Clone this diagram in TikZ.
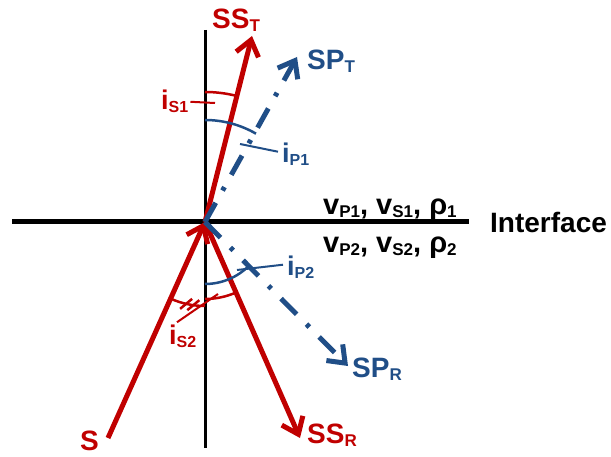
\documentclass[tikz,border=0pt]{standalone}
\usepackage{fontspec}
\setmainfont{Liberation Sans}
\usetikzlibrary{arrows.meta,calc}
\definecolor{sred}{RGB}{192,0,0}
\definecolor{pblue}{RGB}{32,78,135}
\newcommand{\lsub}[2][16]{\raisebox{-3pt}{\fontsize{#1}{#1}\selectfont #2}}
\begin{document}
\begin{tikzpicture}[x=1pt, y=1pt,
    every node/.style={inner sep=0pt, font=\fontsize{27}{27}\selectfont\bfseries},
    raylab/.style={anchor=base west, font=\fontsize{28}{28}\selectfont\bfseries},
    sray/.style={draw=sred, line width=5pt, -{Straight Barb[length=15pt, width=23pt]}},
    pray/.style={draw=pblue, line width=5pt, dash pattern=on 22pt off 14pt on 4pt off 14pt,
      -{Straight Barb[length=15pt, width=23pt]}},
    sarc/.style={draw=sred, line width=2.5pt},
    parc/.style={draw=pblue, line width=2.5pt}]
  \useasboundingbox (0,0) rectangle (611,456);

  % interface and normal
  \coordinate (o) at (205,234);
  \coordinate (left) at (12,234);
  \coordinate (right) at (469,234);
  \coordinate (top) at (205,426);
  \coordinate (bottom) at (205,8);
  \draw[line width=5pt] (left) -- (right);
  \draw[line width=3pt] (top) -- (bottom);
  \node[anchor=base west, font=\fontsize{28}{28}\selectfont\bfseries] (iface) at (490,223) {Interface};
  \node[anchor=base west, font=\fontsize{29}{29}\selectfont\bfseries] (med1) at (323,241)
    {v\lsub[17]{P1}, v\lsub[17]{S1}, ρ\lsub[17]{1}};
  \node[anchor=base west, font=\fontsize{29}{29}\selectfont\bfseries] (med2) at (323,204)
    {v\lsub[17]{P2}, v\lsub[17]{S2}, ρ\lsub[17]{2}};

  % rays
  \coordinate (src) at (108,18);
  \coordinate (sst) at (252,420);
  \coordinate (spt) at (297,399);
  \coordinate (ssr) at (300,18);
  \coordinate (spr) at (348,90);
  \draw[sray] (src) -- (o);
  \draw[sray] (o) -- (sst);
  \draw[sray] (o) -- (ssr);
  \draw[pray] (o) -- (spt);
  \draw[pray] (o) -- (spr);
  \node[raylab, text=sred] (s) at (80,6) {S};
  \node[raylab, text=sred] (sstlab) at (212,427) {SS\lsub[17]{T}};
  \node[raylab, text=pblue] (sptlab) at (307,386) {SP\lsub[17]{T}};
  \node[raylab, text=sred] (ssrlab) at (307,13) {SS\lsub[17]{R}};
  \node[raylab, text=pblue] (sprlab) at (352,79) {SP\lsub[17]{R}};

  % angles
  \draw[sarc] ($(o)+(90:130)$) arc[start angle=90, end angle=76, radius=130];
  \draw[parc] ($(o)+(90:102)$) arc[start angle=90, end angle=60, radius=102];
  \draw[parc] ($(o)+(270:62)$) arc[start angle=270, end angle=315, radius=62];
  \draw[sarc] ($(o)+(246:84)$) arc[start angle=246, end angle=270, radius=84];
  \draw[sarc] ($(o)+(270:77)$) arc[start angle=270, end angle=294, radius=77];
  \draw[sarc] ($(o)+(257:84)+(-6,-5)$) -- ++(12,10);
  \draw[sarc] ($(o)+(262:84)+(-6,-5)$) -- ++(12,10);

  \node[anchor=base west, text=sred] (is1) at (161,346) {i\lsub{S1}};
  \node[anchor=base west, text=pblue] (ip1) at (282,293) {i\lsub{P1}};
  \node[anchor=base west, text=pblue] (ip2) at (287,181) {i\lsub{P2}};
  \node[anchor=base west, text=sred] (is2) at (169,112) {i\lsub{S2}};
  \coordinate (is1end) at (215,353);
  \coordinate (ip1end) at (240,312);
  \coordinate (ip2end) at (237,186);
  \coordinate (is2end) at (218,162);
  \draw[sred, line width=2pt] ([xshift=2pt]is1.east) -- (is1end);
  \draw[pblue, line width=2pt] ([xshift=-4pt, yshift=3pt]ip1.west) -- (ip1end);
  \draw[pblue, line width=2pt] ([xshift=-4pt, yshift=2pt]ip2.west) -- (ip2end);
  \draw[sred, line width=2pt] ([xshift=8pt, yshift=2pt]is2.north west) -- (is2end);
\end{tikzpicture}
\end{document}
